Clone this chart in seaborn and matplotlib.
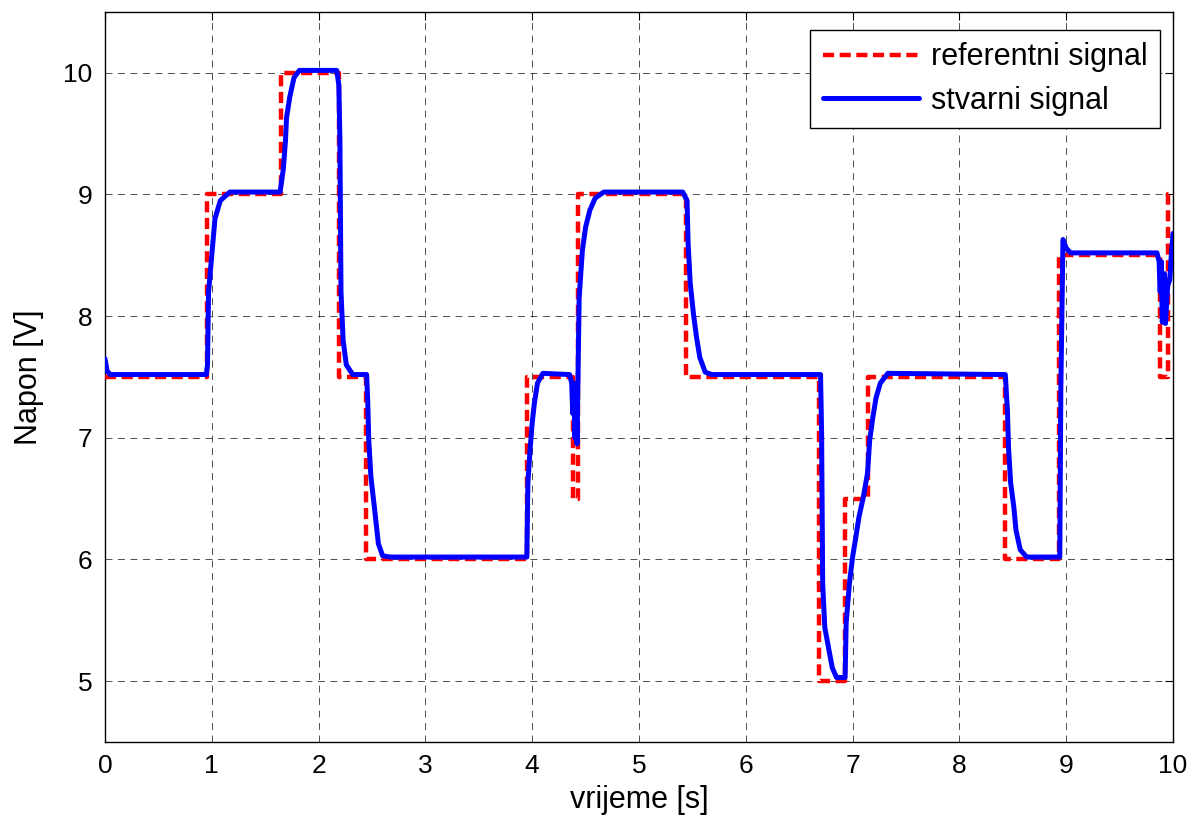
import matplotlib
matplotlib.use("Agg")
import matplotlib.pyplot as plt
import seaborn as sns
import pandas as pd

# Reference signal (step changes)
ref_t = [0, 0.955, 1.65, 2.19, 2.44, 3.95, 4.38, 4.43, 5.44, 6.69, 6.93, 7.14,
         8.43, 8.93, 9.88, 9.95, 10.0]
ref_v = [7.5, 9, 10, 7.5, 6, 7.5, 6.5, 9, 7.5, 5, 6.5, 7.5, 6, 8.5, 7.5, 9, 9]

# Actual (measured) signal
act_t = [0, 0.02, 0.05, 0.95, 0.96, 0.97, 1.0, 1.03, 1.08, 1.17,
         1.64, 1.67, 1.69, 1.70, 1.73, 1.77, 1.82, 2.17, 2.19, 2.20, 2.21, 2.23, 2.26, 2.32,
         2.45, 2.46, 2.47, 2.49, 2.52, 2.56, 2.60, 2.67, 3.95,
         3.96, 3.98, 4.0, 4.02, 4.05, 4.10, 4.35, 4.37, 4.38, 4.39, 4.40, 4.41, 4.42,
         4.44, 4.47, 4.50, 4.54, 4.59, 4.67, 5.41, 5.45, 5.46, 5.48, 5.51, 5.54, 5.57,
         5.62, 5.68, 6.70, 6.71, 6.72, 6.74, 6.78, 6.81, 6.85, 6.93, 6.94, 6.97, 7.0,
         7.03, 7.06, 7.10, 7.14, 7.16, 7.19, 7.22, 7.26, 7.33, 8.43, 8.45, 8.46, 8.48,
         8.51, 8.53, 8.57, 8.63, 8.94, 8.95, 8.97, 9.0, 9.04, 9.85, 9.87, 9.88, 9.89,
         9.90, 9.92, 9.93, 9.95, 9.97, 9.98, 10.0]
act_v = [7.65, 7.55, 7.52, 7.52, 7.6, 8.2, 8.5, 8.8, 8.95, 9.02,
         9.02, 9.21, 9.44, 9.63, 9.80, 9.96, 10.02, 10.02, 9.9, 9.44, 8.2, 7.8, 7.6, 7.52,
         7.52, 7.31, 6.98, 6.68, 6.45, 6.13, 6.03, 6.02, 6.02,
         6.63, 6.90, 7.12, 7.28, 7.45, 7.53, 7.52, 7.45, 7.2, 7.45, 7.0, 7.4, 6.95,
         8.15, 8.54, 8.73, 8.87, 8.97, 9.02, 9.02, 8.95, 8.60, 8.27, 8.02, 7.82, 7.66,
         7.54, 7.52, 7.52, 7.04, 5.80, 5.44, 5.25, 5.11, 5.03, 5.03, 5.48, 5.80, 6.02,
         6.18, 6.35, 6.51, 6.71, 6.98, 7.17, 7.33, 7.45, 7.53, 7.52, 7.22, 6.92, 6.63,
         6.43, 6.24, 6.08, 6.02, 6.02, 7.41, 8.63, 8.56, 8.52, 8.52, 8.45, 8.2, 8.45,
         7.95, 8.35, 7.94, 8.25, 8.3, 8.45, 8.68]

x_ticks = list(range(0, 11))
y_ticks = [5, 6, 7, 8, 9, 10]

sns.set_style("white")
plt.rcParams['font.family'] = ['Liberation Sans', 'DejaVu Sans']
plt.rcParams['lines.scale_dashes'] = False
plt.rcParams['text.color'] = 'black'
plt.rcParams['axes.labelcolor'] = 'black'

ref_df = pd.DataFrame({"t": ref_t, "v": ref_v})
act_df = pd.DataFrame({"t": act_t, "v": act_v})

fig = plt.figure(figsize=(11.94, 8.27), dpi=100)
ax = fig.add_axes([0.0879, 0.1028, 0.8945, 0.8827])

sns.lineplot(data=ref_df, x="t", y="v", ax=ax, color=(1, 0, 0), linewidth=3.2,
             estimator=None, sort=False, drawstyle="steps-post",
             dashes=False, label="referentni signal", zorder=3)
ax.lines[-1].set_dashes((8, 4))
sns.lineplot(data=act_df, x="t", y="v", ax=ax, color=(0, 0, 1), linewidth=3.6,
             estimator=None, sort=False, label="stvarni signal", zorder=4)

ax.set_xlim(0, 10)
ax.set_ylim(4.5, 10.5)
ax.set_xticks(x_ticks)
ax.set_yticks(y_ticks)
ax.tick_params(direction="in", length=6, width=0.8, top=True, right=True,
               labelsize=19, colors="black", pad=9)
ax.grid(True, color="black", linestyle=(0, (5, 4)), linewidth=0.6, alpha=0.8)
for s in ax.spines.values():
    s.set_color("black")
    s.set_linewidth(1.0)
    s.set_visible(True)

ax.set_xlabel("vrijeme [s]", fontsize=22, labelpad=5, color="black")
ax.set_ylabel("Napon [V]", fontsize=22, labelpad=14, color="black")

leg = ax.legend(loc="upper right", bbox_to_anchor=(0.9878, 0.9753), fontsize=22,
                frameon=True, fancybox=False, edgecolor="black", framealpha=1,
                handlelength=3.15, handletextpad=0.4, borderaxespad=0,
                borderpad=0.4, labelspacing=0.45)
leg.get_frame().set_linewidth(1.0)
for txt in leg.get_texts():
    txt.set_color("black")

fig.savefig("out.png", dpi=100)
